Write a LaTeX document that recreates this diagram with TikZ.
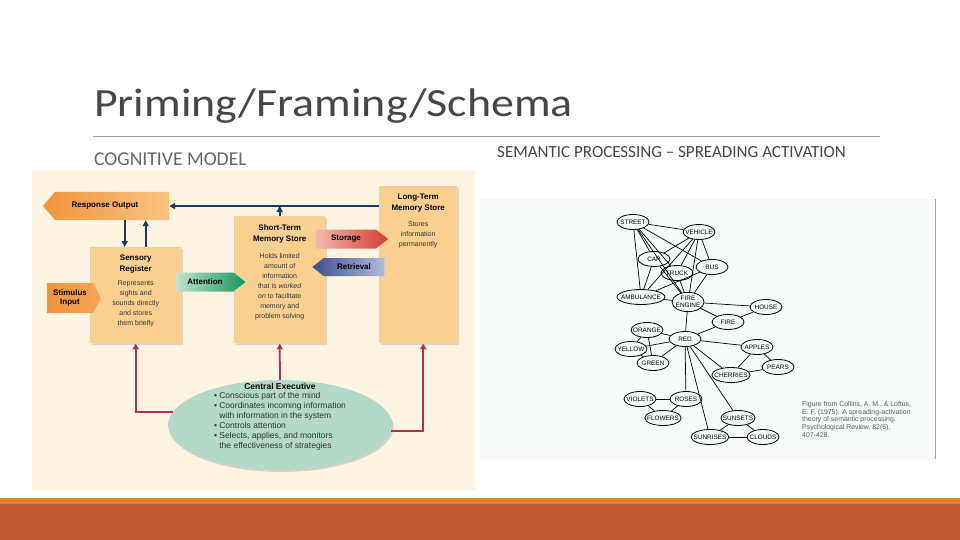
\documentclass[tikz,border=0pt]{standalone}
\usepackage{fontspec}
\setmainfont{Carlito}
\newfontfamily\diagfont{Liberation Sans}
\usepackage{xcolor}
\usepackage{tikz}
\usetikzlibrary{shadows}
\usetikzlibrary{positioning}
\usetikzlibrary{arrows.meta,shapes}
\usetikzlibrary{shapes.arrows}
\usetikzlibrary{calc}

\definecolor{panel}{RGB}{253,245,226}
\definecolor{netbg}{RGB}{248,250,249}
\definecolor{storefill}{RGB}{250,208,145}
\definecolor{execfill}{RGB}{180,217,200}
\definecolor{navy}{RGB}{30,55,95}
\definecolor{crimson}{RGB}{185,45,85}
\definecolor{barorange}{RGB}{224,130,30}
\definecolor{barrust}{RGB}{190,90,46}
\definecolor{titlegray}{RGB}{70,70,70}

\tikzset{store/.style={rectangle,fill=storefill,anchor=north west,inner sep=0pt,
  drop shadow={shadow xshift=1.5pt,shadow yshift=-1.5pt,opacity=0.25}}}
\tikzset{storehead/.style={align=center,inner sep=0pt,font=\diagfont\bfseries\fontsize{8}{11}\selectfont}}
\tikzset{storebody/.style={align=center,inner sep=0pt,text=black!80,font=\diagfont\fontsize{7}{10}\selectfont}}
\tikzset{flow/.style={single arrow,single arrow head extend=0pt,inner sep=0pt,font=\diagfont\bfseries\fontsize{8}{9}\selectfont}}
\tikzset{concept/.style={ellipse,draw,line width=0.8pt,inner xsep=-3pt,inner ysep=1.2pt,
  minimum width=32pt,minimum height=15pt,align=center,font=\diagfont\fontsize{6.4}{6.8}\selectfont}}
\tikzset{link/.style={line width=0.7pt}}

\begin{document}
\begin{tikzpicture}[x=1pt, y=-1pt, >={Triangle[length=6pt,width=6pt]}]
  \useasboundingbox (0,0) rectangle (960,540);
  \fill[white] (0,0) rectangle (960,540);

  \node[anchor=base west, inner sep=0pt, text=titlegray, font=\fontsize{40}{40}\selectfont] (title) at (94,117) {\scalebox{1.147}[1]{Priming/Framing/Schema}};
  \draw[gray!80, line width=0.8pt] (93,136) -- (880,136);
  \node[anchor=base west, inner sep=0pt, text=black!60, font=\fontsize{19.6}{20}\selectfont] (leftcap) at (94,166) {COGNITIVE MODEL};
  \node[anchor=base west, inner sep=0pt, text=titlegray, font=\fontsize{17}{18}\selectfont] (rightcap) at (497,158) {SEMANTIC PROCESSING – SPREADING ACTIVATION};

  % cognitive model
  \fill[panel] (32,170) rectangle (475,490);
  \node[store, minimum width=91pt, minimum height=96pt] (sr) at (90,247) {};
  \node[store, minimum width=91pt, minimum height=127pt] (stm) at (234,216) {};
  \node[store, minimum width=78pt, minimum height=157pt] (ltm) at (379,186) {};

  \node[storehead, below=8pt of sr.north] (srhead) {Sensory\\Register};
  \node[storebody, below=7pt of srhead] (srbody) {Represents\\sights and\\sounds directly\\and stores\\them briefly};
  \node[storehead, below=9pt of stm.north] (stmhead) {Short-Term\\Memory Store};
  \node[storebody, below=9pt of stmhead] (stmbody) {Holds limited\\amount of\\information\\that is \textit{worked}\\\textit{on} to facilitate\\memory and\\problem solving};
  \node[storehead, below=8pt of ltm.north] (ltmhead) {Long-Term\\Memory Store};
  \node[storebody, below=9pt of ltmhead] (ltmbody) {Stores\\information\\permanently};

  \node[flow, shape border rotate=180, single arrow tip angle=99, minimum height=126pt, minimum width=28pt,
        left color={rgb,255:red,240;green,148;blue,58}, right color={rgb,255:red,249;green,196;blue,130}] (ro) at (112,206) {Response Output\hspace*{14pt}};
  \node[flow, single arrow tip angle=124, minimum height=54pt, minimum width=30pt,
        left color={rgb,255:red,241;green,146;blue,60}, right color={rgb,255:red,244;green,166;blue,88}] (si) at (70,298) {\begin{tabular}{@{}c@{}}Stimulus\\Input\end{tabular}};
  \node[flow, single arrow tip angle=77, minimum height=69pt, minimum width=19pt,
        left color={rgb,255:red,190;green,228;blue,206}, right color={rgb,255:red,22;green,150;blue,90}] (att) at (205,282) {Attention};
  \node[flow, single arrow tip angle=77, minimum height=72pt, minimum width=19pt,
        left color={rgb,255:red,242;green,186;blue,170}, right color={rgb,255:red,214;green,58;blue,50}] (sto) at (346,239) {Storage};
  \node[flow, shape border rotate=180, single arrow tip angle=77, minimum height=72pt, minimum width=18pt,
        left color={rgb,255:red,60;green,78;blue,144}, right color={rgb,255:red,176;green,186;blue,220}] (ret) at (354,267) {Retrieval};

  \node[ellipse, fill=execfill, minimum width=224pt, minimum height=90pt,
        drop shadow={shadow xshift=1.5pt,shadow yshift=-2pt,opacity=0.3}] (ce) at (280,425) {};
  \node[inner sep=0pt, font=\diagfont\bfseries\fontsize{8.5}{10}\selectfont, below=3pt of ce.north] (cehead) {Central Executive};
  \node[inner sep=0pt, align=left, text=black!80, font=\diagfont\fontsize{8.5}{10}\selectfont, below=3pt of cehead] (celist)
    {• Conscious part of the mind\\• Coordinates incoming information\\\phantom{• }with information in the system\\• Controls attention\\• Selects, applies, and monitors\\\phantom{• }the effectiveness of strategies};

  \draw[->, navy, line width=1.6pt] (ltm.west |- ro.east) -- (ro.east);
  \draw[->, navy, line width=1.6pt] (stm.north) -- (stm.north |- ro.east);
  \draw[->, navy, line width=1.6pt] ([xshift=-11pt]sr.north |- ro.south) -- ([xshift=-11pt]sr.north);
  \draw[->, navy, line width=1.6pt] ([xshift=10pt]sr.north) -- ([xshift=10pt]sr.north |- ro.south);

  \draw[->, crimson, line width=1.8pt] (ce.173) -| (sr.south);
  \draw[->, crimson, line width=1.8pt] (ce.north) -- (stm.south);
  \draw[->, crimson, line width=1.8pt] (ce.-3) -| ([xshift=5pt]ltm.south);

  % semantic network
  \fill[netbg] (480,199) rectangle (935,459);
  \draw[gray!70, line width=1pt] (935,199) -- (935,459);
  \foreach \x/\y/\name/\word in {633/222/street/STREET, 699/232/vehicle/VEHICLE, 654/259/car/CAR,
      677/273/truck/TRUCK, 712/267/bus/BUS, 641/297/ambulance/AMBULANCE, 688/302/engine/{FIRE\\ENGINE},
      766/307/house/HOUSE, 728/322/fire/FIRE, 647/330/orange/ORANGE, 685/339/red/RED,
      631/349/yellow/YELLOW, 653/363/green/GREEN, 757/347/apples/APPLES, 778/367/pears/PEARS,
      731/375/cherries/CHERRIES, 640/399/violets/VIOLETS, 686/399/roses/ROSES, 663/418/flowers/FLOWERS,
      738/418/sunsets/SUNSETS, 710/437/sunrises/SUNRISES, 763/437/clouds/CLOUDS}{
    \node[concept] (\name) at (\x,\y) {\word};
  }
  \foreach \a/\b in {street/vehicle, street/car, street/truck, street/bus, street/ambulance, street/engine,
      vehicle/car, vehicle/truck, vehicle/bus, vehicle/ambulance, vehicle/engine,
      car/ambulance, car/engine, truck/engine, bus/engine, bus/ambulance, ambulance/engine,
      engine/house, engine/fire, engine/red, house/fire, fire/red,
      red/orange, red/yellow, red/green, orange/yellow, orange/green, yellow/green,
      red/apples, red/cherries, apples/pears, apples/cherries, cherries/pears,
      red/roses, red/sunsets, red/sunrises, violets/roses, violets/flowers, roses/flowers,
      sunsets/sunrises, sunsets/clouds, sunrises/clouds}{
    \draw[link] (\a) -- (\b);
  }
  \node[anchor=north west, inner sep=0pt, align=left, text=black!65, font=\diagfont\fontsize{6.9}{7.8}\selectfont] (cite) at (802,401)
    {Figure from Collins, A. M., \& Loftus,\\E. F. (1975). A spreading-activation\\theory of semantic processing.\\Psychological Review, 82(6),\\407-428.};

  \fill[barorange] (0,498) rectangle (960,504);
  \fill[barrust] (0,504) rectangle (960,540);
\end{tikzpicture}
\end{document}
